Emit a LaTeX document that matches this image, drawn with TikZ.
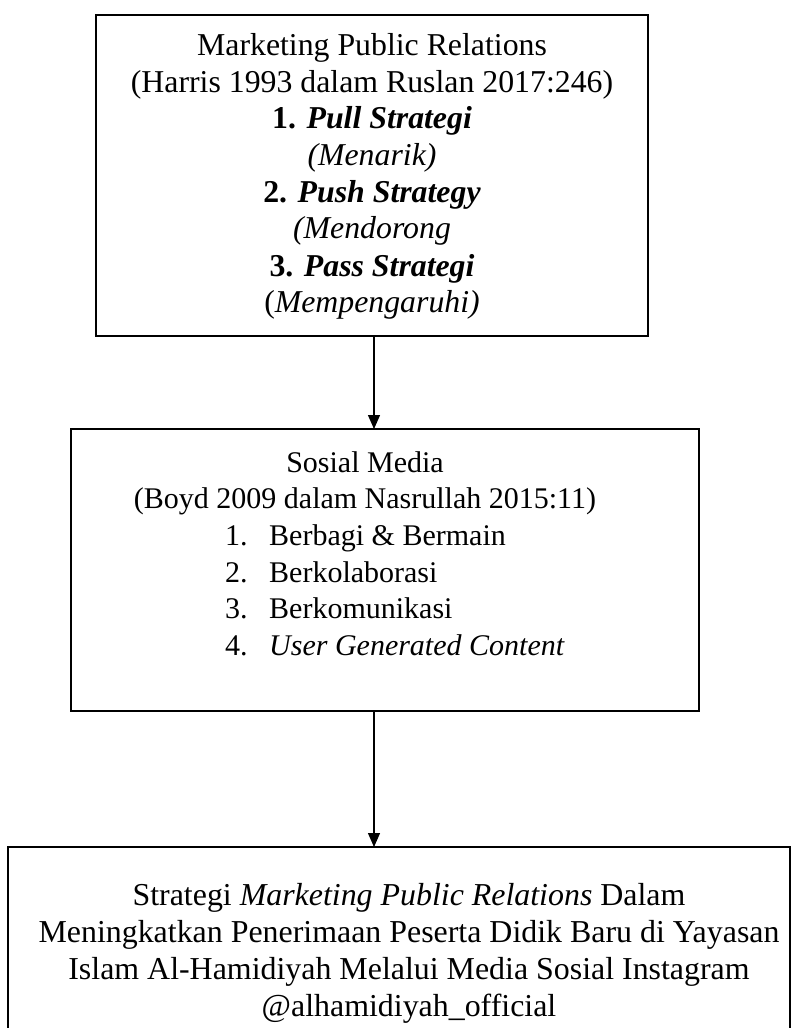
\documentclass[tikz,border=0pt]{standalone}
\usepackage{fontspec}
\setmainfont{Liberation Serif}
\usetikzlibrary{arrows.meta}
\tikzset{
  boxframe/.style={draw=black, line width=2.5pt, inner sep=0pt},
  txta/.style={anchor=base, inner sep=0pt, font=\fontsize{31.8}{37}\selectfont},
  txt/.style={anchor=base, inner sep=0pt, font=\fontsize{30}{37}\selectfont},
  txtl/.style={anchor=base west, inner sep=0pt, font=\fontsize{30}{37}\selectfont},
  txtc/.style={anchor=base, inner sep=0pt, font=\fontsize{31.9}{37}\selectfont},
  flow/.style={draw=black, line width=1.3pt, -{Triangle[width=12pt,length=14pt]}}
}
\begin{document}
\begin{tikzpicture}[x=1pt,y=-1pt]
\useasboundingbox (0,0) rectangle (792,1028);
% boxes
\draw[boxframe] (96,15) rectangle (648,336);
\draw[boxframe] (71,429) rectangle (699,711);
\draw[boxframe] (8,847) rectangle (790,1045);
\coordinate (b1s) at (374,336);
\coordinate (b2n) at (374,429);
\coordinate (b2s) at (374,711);
\coordinate (b3n) at (374,847);
% box 1 text
\node[txta] (t11) at (372,55) {Marketing Public Relations};
\node[txta] (t12) at (372,92) {(Harris 1993 dalam Ruslan 2017:246)};
\node[txta] (t13) at (372,128) {\textbf{1. \textit{Pull Strategi}}};
\node[txta] (t14) at (372,165) {\textit{(Menarik)}};
\node[txta] (t15) at (372,202) {\textbf{2. \textit{Push Strategy}}};
\node[txta] (t16) at (372,238) {\textit{(Mendorong}};
\node[txta] (t17) at (372,276) {\textbf{3. \textit{Pass Strategi}}};
\node[txta] (t18) at (372,312) {(\textit{Mempengaruhi)}};
% box 2 text
\node[txt] (t21) at (365,472) {Sosial Media};
\node[txt] (t22) at (365,508) {(Boyd 2009 dalam Nasrullah 2015:11)};
\node[txtl] (n1) at (225,545) {1.};
\node[txtl] (n2) at (225,582) {2.};
\node[txtl] (n3) at (225,618) {3.};
\node[txtl] (n4) at (225,655) {4.};
\node[txtl] (l1) at (269,545) {Berbagi \& Bermain};
\node[txtl] (l2) at (269,582) {Berkolaborasi};
\node[txtl] (l3) at (269,618) {Berkomunikasi};
\node[txtl] (l4) at (269,655) {\textit{User Generated Content}};
% box 3 text
\node[txtc] (t31) at (409,905) {Strategi \textit{Marketing Public Relations} Dalam};
\node[txtc] (t32) at (409,942) {Meningkatkan Penerimaan Peserta Didik Baru di Yayasan};
\node[txtc] (t33) at (409,979) {Islam Al-Hamidiyah Melalui Media Sosial Instagram};
\node[txtc] (t34) at (409,1016) {@alhamidiyah\_official};
% arrows
\draw[flow] (b1s) -- (b2n);
\draw[flow] (b2s) -- (b3n);
\end{tikzpicture}
\end{document}
